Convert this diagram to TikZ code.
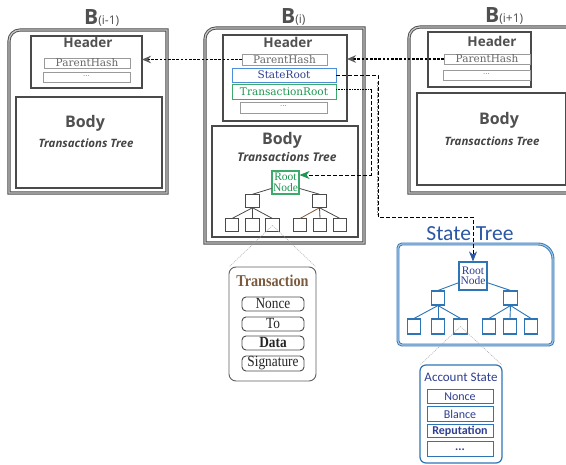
\documentclass[tikz,border=0pt]{standalone}
\usepackage{fontspec}
\setmainfont{DejaVu Serif}
\newfontfamily\hsans{Open Sans}
\newfontfamily\csans{Carlito}
\newfontfamily\tser{Liberation Serif}
\newfontfamily\tsercond{Liberation Serif}[FakeStretch=0.86]
\usetikzlibrary{arrows.meta,calc}

\definecolor{txtgray}{HTML}{505050}
\definecolor{linegray}{HTML}{4A4A4A}
\definecolor{lightline}{HTML}{C4C4C4}
\definecolor{fieldgray}{HTML}{9A9A9A}
\definecolor{fieldtext}{HTML}{666666}
\definecolor{srblue}{HTML}{4A8FD8}
\definecolor{navy}{HTML}{2F3F8F}
\definecolor{trgreen}{HTML}{3DAA6A}
\definecolor{dkgreen}{HTML}{1E9550}
\definecolor{stblue}{HTML}{2E75B6}
\definecolor{stlight}{HTML}{A8C8E8}
\definecolor{titleblue}{HTML}{2B57A6}
\definecolor{txbrown}{HTML}{7B5A3E}
\definecolor{arrowgray}{HTML}{5A5A5A}

% box placed by its top-left and bottom-right corners
\newcommand{\boxnode}[7]{\node[#2, anchor=north west, inner sep=0pt, outer sep=0pt,
  minimum width={(#5-#3)*1pt}, minimum height={(#6-#4)*1pt}] (#1) at (#3,#4) {#7};}
% block frame with a rounded top-left corner
\newcommand{\blockframe}[4]{\draw[blockline] (#1,#4) -- ({#1},{#2+11})
  .. controls ({#1},{#2+4.9}) and ({#1+4.9},{#2}) .. ({#1+11},{#2}) -- (#3,#2) -- (#3,#4) -- cycle;}

\begin{document}
\begin{tikzpicture}[x=1pt,y=-1pt,
  blockline/.style={draw=linegray, line width=0.9pt, double=lightline, double distance=1.3pt},
  frame/.style={draw=linegray, line width=1.1pt},
  field/.style={draw=fieldgray, line width=0.7pt, text=fieldtext, font=\fontsize{10.5}{11}\selectfont},
  dotsfield/.style={field, font=\fontsize{7}{7}\selectfont},
  blocktitle/.style={anchor=base west, inner sep=0pt, text=txtgray},
  hdr/.style={anchor=base, inner sep=0pt, text=txtgray, font=\fontsize{13.5}{14}\hsans\bfseries},
  bodytxt/.style={anchor=base, inner sep=0pt, text=txtgray, font=\fontsize{16}{16}\hsans\bfseries},
  tttxt/.style={anchor=base, inner sep=0pt, text=txtgray!85!black, font=\fontsize{11.5}{12}\hsans\bfseries\itshape},
  tnode/.style={draw=linegray, line width=1pt, minimum width=13.5pt, minimum height=12.5pt, inner sep=0pt},
  tedge/.style={draw=linegray, line width=0.8pt},
  snode/.style={draw=stblue, line width=1.1pt, minimum width=13.5pt, minimum height=14pt, inner sep=0pt},
  sedge/.style={draw=stblue, line width=0.9pt},
  rootfont/.style={font=\fontsize{11.5}{10.5}\tser, align=center, inner sep=0pt},
  callout/.style={draw=gray!70, line width=0.5pt, dash pattern=on 1pt off 1pt},
  txitem/.style={draw=linegray, line width=0.9pt, rounded corners=4pt, text=black!85,
    font=\fontsize{15.5}{15}\tsercond},
  acitem/.style={draw=stblue, line width=1pt, text=navy, font=\fontsize{12}{12}\csans},
  parentlink/.style={draw=black, line width=1.7pt, dash pattern=on 2.6pt off 1.6pt,
    -{Stealth[length=9pt,width=7.5pt,color=arrowgray]}},
  rootlink/.style={draw=black, line width=0.7pt, dash pattern=on 4pt off 2pt}
]
\useasboundingbox (0,0) rectangle (566,465);
\clip (0,0) rectangle (566,465);
\fill[white] (0,0) rectangle (566,465);

% ---------------- block B(i-1) ----------------
\blockframe{9}{30}{167}{193}
\node[blocktitle] (tA) at (84,25) {{\fontsize{21}{21}\hsans\bfseries B}{\fontsize{12}{12}\hsans (i-1)}};
\boxnode{hA}{frame}{31}{36}{142}{88}{}
\node[hdr] (hAt) at (88,47.5) {Header};
\boxnode{phA}{field}{44}{58}{130}{68}{ParentHash}
\boxnode{dA}{dotsfield}{43}{72}{130}{82}{···}
\boxnode{bA}{frame}{16}{97}{162}{188}{}
\node[bodytxt] (bAt) at (85,128) {Body};
\node[tttxt] (ttA) at (86,148) {Transactions Tree};

% ---------------- block B(i) ----------------
\blockframe{205}{28}{364}{243}
\node[blocktitle] (tB) at (281,24) {{\fontsize{21}{21}\hsans\bfseries B}{\fontsize{12}{12}\hsans (i)}};
\boxnode{hB}{frame}{223}{35}{347}{121}{}
\node[hdr] (hBt) at (288,48) {Header};
\boxnode{phB}{field}{242}{54}{327}{65}{ParentHash}
\boxnode{srB}{field, draw=srblue, text=navy}{232}{68}{336}{82}{StateRoot}
\boxnode{trB}{field, draw=trgreen, text=dkgreen}{232}{84}{336}{99}{TransactionRoot}
\boxnode{dB}{dotsfield}{240}{102}{327}{113}{···}
\boxnode{bB}{frame}{212}{126}{358}{237}{}
\node[bodytxt] (bBt) at (282,145) {Body};
\node[tttxt, font=\fontsize{12}{12}\hsans\bfseries\itshape] (ttB) at (287,162) {Transactions Tree};

% transactions tree
\node[rootfont, draw=trgreen, line width=1.2pt, text=dkgreen, minimum width=27pt, minimum height=23pt]
  (rtT) at (285.5,182.5) {Root\\Node};
\node[tnode] (cTL) at (252.5,201) {};
\node[tnode] (cTR) at (319.5,201) {};
\node[tnode, minimum height=13pt] (lT1) at (232,225.5) {};
\node[tnode, minimum height=13pt] (lT2) at (252.5,225.5) {};
\node[tnode, minimum height=13pt] (lT3) at (272.5,225.5) {};
\node[tnode, minimum height=13pt] (lT4) at (300,225.5) {};
\node[tnode, minimum height=13pt] (lT5) at (320,225.5) {};
\node[tnode, minimum height=13pt] (lT6) at (340,225.5) {};
\draw[tedge] (rtT.203) -- (cTL.north);
\draw[tedge] (rtT.-23) -- (cTR.north);
\draw[tedge] (cTL.south) -- (lT1.north);
\draw[tedge] (cTL.south) -- (lT2.north);
\draw[tedge] (cTL.south) -- (lT3.north);
\draw[tedge, draw=txbrown] (cTR.south) -- (lT4.north);
\draw[tedge] (cTR.south) -- (lT5.north);
\draw[tedge] (cTR.south) -- (lT6.north);

% ---------------- block B(i+1) ----------------
\blockframe{409}{27}{576}{193}
\node[blocktitle] (tC) at (485,23) {{\fontsize{21}{21}\hsans\bfseries B}{\fontsize{12}{12}\hsans (i+1)}};
\boxnode{hC}{frame}{428}{32}{531}{87}{}
\node[hdr] (hCt) at (492,47) {Header};
\boxnode{phC}{field}{444}{54}{530}{64}{ParentHash}
\boxnode{dC}{dotsfield}{443}{70}{530}{80}{···}
\boxnode{bC}{frame}{417}{93}{566}{185}{}
\node[bodytxt] (bCt) at (499,125) {Body};
\node[tttxt] (ttC) at (492,146) {Transactions Tree};

% ---------------- parent hash links ----------------
\draw[parentlink] (phC.west) -- (phC.west -| hB.east);
\draw[parentlink] (phB.west) -- (phB.west -| hA.east);

% ---------------- transaction record ----------------
\boxnode{tx}{draw=gray!75!black, line width=0.9pt, rounded corners=7pt}{229}{267}{316}{381}{}
\node[anchor=base, inner sep=0pt, text=txbrown, font=\fontsize{16.5}{16}\tsercond\bfseries] (txt) at (272.5,287) {Transaction};
\boxnode{txN}{txitem}{242}{297}{304}{311}{Nonce}
\boxnode{txT}{txitem}{242}{317}{304}{331}{To}
\boxnode{txD}{txitem}{242}{336}{304}{350}{\bfseries Data}
\boxnode{txS}{txitem}{242}{356}{304}{371}{Signature}
\draw[callout] (lT3.center) -- (tx.north west);
\draw[callout] (lT3.center) -- (tx.north east);

% ---------------- state tree ----------------
\node[anchor=base, inner sep=0pt, text=titleblue, font=\fontsize{21.5}{22}\csans] (stt) at (470,241) {State Tree};
\draw[draw=stblue, line width=0.9pt, double=stlight, double distance=1.1pt]
  (402,244) -- (538,244) .. controls (546.3,244) and (553,250.7) .. (553,259)
  -- (553,341) .. controls (553,343.2) and (551.2,345) .. (549,345)
  -- (402,345) .. controls (399.8,345) and (398,343.2) .. (398,341)
  -- (398,248) .. controls (398,245.8) and (399.8,244) .. cycle;
\node[rootfont, draw=stblue, line width=1.2pt, text=navy, minimum width=28pt, minimum height=28pt]
  (stR) at (473,276) {Root\\Node};
\node[snode] (cSL) at (438,298) {};
\node[snode] (cSR) at (510.5,298) {};
\node[snode, minimum height=15pt] (lS1) at (414,326.5) {};
\node[snode, minimum height=15pt] (lS2) at (438,326.5) {};
\node[snode, minimum height=15pt] (lS3) at (460.5,326.5) {};
\node[snode, minimum height=15pt] (lS4) at (489,326.5) {};
\node[snode, minimum height=15pt] (lS5) at (510,326.5) {};
\node[snode, minimum height=15pt] (lS6) at (531,326.5) {};
\draw[sedge] (stR.205) -- (cSL.north);
\draw[sedge] (stR.-25) -- (cSR.north);
\draw[sedge] (cSL.south) -- (lS1.north);
\draw[sedge] (cSL.south) -- (lS2.north);
\draw[sedge] (cSL.south) -- (lS3.north);
\draw[sedge] (cSR.south) -- (lS4.north);
\draw[sedge] (cSR.south) -- (lS5.north);
\draw[sedge] (cSR.south) -- (lS6.north);

% ---------------- account state record ----------------
\boxnode{ac}{draw=stblue, line width=1.2pt, rounded corners=6pt}{420}{365}{502}{463}{}
\node[anchor=base, inner sep=0pt, text=navy, font=\fontsize{13}{13}\csans] (act) at (461,382) {Account State};
\boxnode{acN}{acitem}{427}{390}{493}{404}{Nonce}
\boxnode{acB}{acitem}{427}{407}{493}{422}{Blance}
\boxnode{acR}{acitem}{427}{425}{493}{438}{\bfseries Reputation}
\boxnode{acD}{acitem}{427}{442}{493}{457}{\bfseries ...}
\draw[callout] (lS3.center) -- (ac.north west);
\draw[callout] (lS3.center) -- (ac.north east);

% ---------------- root links ----------------
\coordinate (srBend) at (378,217);
\coordinate (trBend) at (371,89);
\draw[densely dotted, draw=srblue!80, line width=0.4pt] (377,82) -- (377,215);
\draw[rootlink, -{Stealth[length=10pt,width=8pt,color=titleblue]}]
  (srB.east) -| (srBend) -| (stR.north);
\draw[draw=black, line width=0.6pt, densely dotted] ($(trB.east)+(0,-2.5)$) -- (trBend);
\draw[rootlink, -{Stealth[length=10pt,width=8pt,color=dkgreen]}]
  (trBend) |- ($(rtT.east)+(0,-7.5)$);
\end{tikzpicture}
\end{document}
